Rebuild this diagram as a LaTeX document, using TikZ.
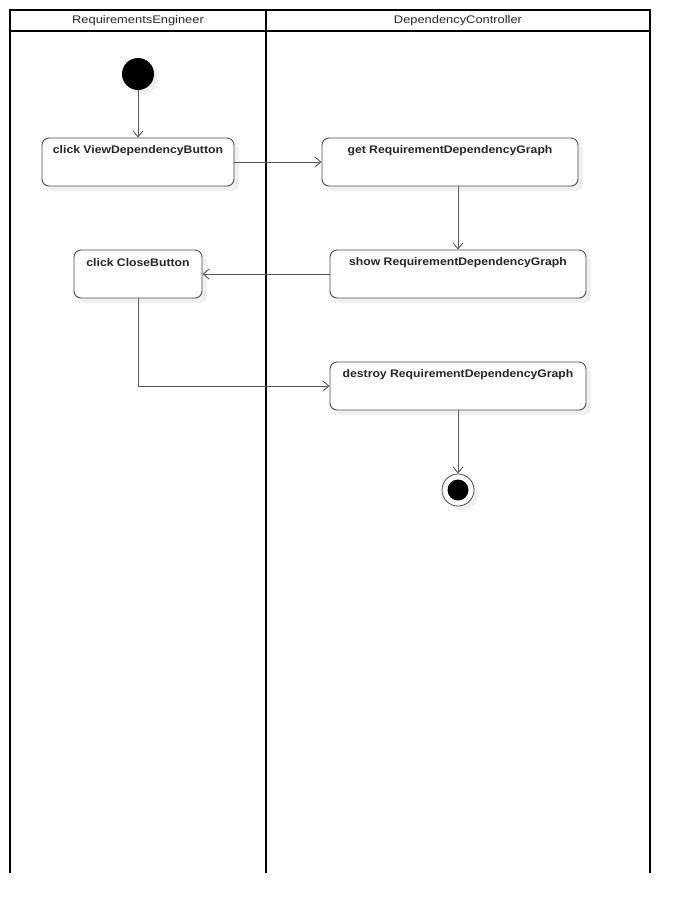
\documentclass[tikz,border=0pt]{standalone}
\usepackage{fontspec}
\setmainfont{Liberation Sans}
\newfontfamily\actfont[FakeStretch=1.11]{Liberation Sans}
\newfontfamily\hdrfont[FakeStretch=1.17]{Liberation Sans}
\usetikzlibrary{arrows.meta,shadows}
\tikzset{
  lane/.style={line width=1.6pt,draw=black},
  act/.style={draw=black!70,line width=0.9pt,rounded corners=7pt,fill=white,
    drop shadow={shadow xshift=5pt,shadow yshift=-5pt,fill=black!6,opacity=1}},
  lbl/.style={font=\actfont\bfseries\fontsize{11}{13}\selectfont,text=black!85,anchor=center,inner sep=0pt},
  hdr/.style={font=\hdrfont\fontsize{11}{13}\selectfont,text=black!85,inner sep=0pt},
  flow/.style={draw=black!65,line width=0.9pt,-{Straight Barb[length=6pt,width=10pt]}},
}
\begin{document}
\begin{tikzpicture}[x=1pt,y=-1pt]
\useasboundingbox (0,0) rectangle (690,914);
% swimlanes
\draw[lane] (10,873) -- (10,10) -- (650,10) -- (650,873);
\draw[lane] (266,10) -- (266,873);
\draw[lane] (10,31) -- (650,31);
\node[hdr] (h1) at (138,21) {RequirementsEngineer};
\node[hdr] (h2) at (458,21) {DependencyController};
% initial
\node[circle,fill=black,minimum size=32pt,inner sep=0pt,
  drop shadow={shadow xshift=4pt,shadow yshift=-4pt,fill=black!6,opacity=1}] (init) at (138,74) {};
% activities
\node[act,minimum width=192pt,minimum height=48pt] (b1) at (138,162) {};
\node[lbl] (t1) at (138,150.5) {click ViewDependencyButton};
\node[act,minimum width=256pt,minimum height=48pt] (b2) at (450,162) {};
\node[lbl] (t2) at (450,150.5) {get RequirementDependencyGraph};
\node[act,minimum width=256pt,minimum height=48pt] (b3) at (458,274) {};
\node[lbl] (t3) at (458,262.5) {show RequirementDependencyGraph};
\node[act,minimum width=128pt,minimum height=48pt] (b4) at (138,274) {};
\node[lbl] (t4) at (138,262.5) {click CloseButton};
\node[act,minimum width=256pt,minimum height=48pt] (b5) at (458,386) {};
\node[lbl] (t5) at (458,374.5) {destroy RequirementDependencyGraph};
% final
\node[circle,draw=black!70,line width=0.8pt,fill=white,minimum size=32pt,inner sep=0pt,
  drop shadow={shadow xshift=4pt,shadow yshift=-4pt,fill=black!6,opacity=1}] (fin) at (458,490) {};
\node[circle,fill=black,minimum size=21pt,inner sep=0pt] (finc) at (fin) {};
% flows
\draw[flow] (init) -- (b1);
\draw[flow] (b1) -- (b2.west |- b1);
\draw[flow] (b2.south -| b3) -- (b3);
\draw[flow] (b3) -- (b4);
\draw[flow] (b4.south) |- (b5.west);
\draw[flow] (b5) -- (fin);
\end{tikzpicture}
\end{document}
